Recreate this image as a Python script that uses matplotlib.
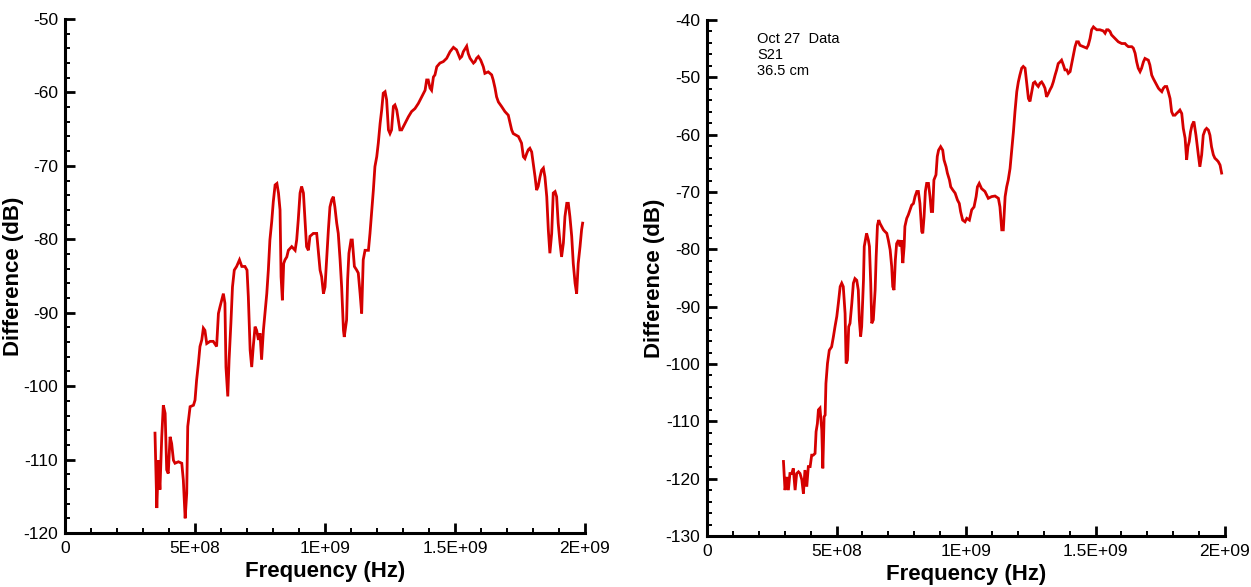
import numpy as np
import matplotlib
matplotlib.use("Agg")
import matplotlib.pyplot as plt
from matplotlib.ticker import MultipleLocator, FixedLocator

plt.rcParams['font.family'] = ['Liberation Sans', 'DejaVu Sans']
plt.rcParams['axes.unicode_minus'] = False

# ---- Data: frequency in GHz, difference in dB ----
left_freq_ghz = [
    0.346, 0.353, 0.359, 0.365, 0.372, 0.378, 0.385, 0.391, 0.397, 0.404,
    0.410, 0.417, 0.423, 0.436, 0.449, 0.455, 0.462, 0.468, 0.472, 0.481,
    0.494, 0.500, 0.506, 0.513, 0.519, 0.526, 0.532, 0.538, 0.545, 0.558,
    0.570, 0.583, 0.590, 0.596, 0.609, 0.615, 0.619, 0.626, 0.631, 0.638,
    0.644, 0.651, 0.660, 0.671, 0.680, 0.692, 0.700, 0.705, 0.712, 0.718,
    0.724, 0.731, 0.737, 0.744, 0.750, 0.756, 0.763, 0.769, 0.776, 0.782,
    0.788, 0.795, 0.801, 0.808, 0.815, 0.821, 0.827, 0.831, 0.836, 0.841,
    0.846, 0.853, 0.859, 0.872, 0.885, 0.891, 0.897, 0.904, 0.910, 0.917,
    0.923, 0.929, 0.936, 0.942, 0.955, 0.968, 0.974, 0.981, 0.987, 0.994,
    1.000, 1.006, 1.013, 1.019, 1.026, 1.032, 1.038, 1.045, 1.051, 1.058,
    1.064, 1.071, 1.074, 1.083, 1.087, 1.092, 1.100, 1.105, 1.113, 1.122,
    1.128, 1.135, 1.141, 1.147,
    1.154, 1.167, 1.173, 1.180, 1.186, 1.192, 1.199, 1.205, 1.212, 1.218,
    1.224, 1.231, 1.237, 1.244, 1.250, 1.256, 1.263, 1.269, 1.276, 1.282,
    1.288, 1.295, 1.308, 1.321, 1.333, 1.346, 1.359, 1.372, 1.385, 1.391,
    1.397, 1.404, 1.410, 1.417, 1.423, 1.430, 1.442, 1.455, 1.468, 1.481,
    1.494, 1.506, 1.519, 1.526, 1.532, 1.545, 1.551, 1.558, 1.571, 1.577,
    1.583, 1.590, 1.599, 1.609, 1.615, 1.628, 1.641, 1.647, 1.654, 1.660,
    1.667, 1.679, 1.692, 1.705, 1.712, 1.718, 1.724, 1.744, 1.756, 1.763,
    1.769, 1.776, 1.782, 1.788, 1.795, 1.801, 1.808, 1.814, 1.820, 1.827,
    1.833, 1.840, 1.846, 1.853, 1.859, 1.865, 1.872, 1.878, 1.885, 1.891,
    1.897, 1.904, 1.910, 1.917, 1.923, 1.930, 1.936, 1.942, 1.949, 1.955,
    1.962, 1.968, 1.974, 1.981, 1.987, 1.991,
]
left_diff_db = [
    -106.4, -116.6, -110.1, -114.1, -106.9, -102.6, -103.7, -111.4, -111.9, -106.9,
    -107.8, -110.1, -110.5, -110.3, -110.5, -112.8, -118.0, -114.6, -105.5, -102.8,
    -102.6, -101.9, -99.2, -96.9, -94.6, -93.7, -92.1, -92.4, -94.2, -93.9,
    -93.9, -94.6, -90.1, -89.2, -87.4, -88.7, -97.4, -101.4, -96.4, -91.4,
    -86.5, -84.2, -83.7, -82.8, -83.7, -83.7, -84.2, -87.8, -95.1, -97.4,
    -94.6, -91.9, -92.4, -93.7, -92.8, -96.4, -92.4, -90.1, -87.4, -84.2,
    -80.1, -77.6, -74.9, -72.6, -72.4, -73.7, -76.0, -85.1, -88.3, -83.3,
    -82.8, -82.4, -81.5, -81.0, -81.5, -80.1, -77.4, -73.7, -72.8, -73.7,
    -77.4, -81.0, -81.5, -79.6, -79.2, -79.2, -81.5, -84.2, -85.1, -87.4,
    -86.5, -82.8, -78.7, -75.6, -74.6, -74.2, -75.6, -77.8, -79.2, -82.8,
    -86.5, -92.4, -93.3, -91.0, -85.5, -81.9, -80.1, -80.1, -83.7, -84.2,
    -84.6, -87.4, -90.1, -82.8,
    -81.5, -81.5, -79.2, -76.0, -73.3, -70.1, -68.75, -66.9, -64.2, -62.4,
    -60.1, -59.9, -61.0, -65.1, -65.6, -65.1, -61.9, -61.7, -62.4, -63.75,
    -65.1, -65.1, -64.2, -63.3, -62.6, -62.2, -61.5, -60.6, -59.7, -58.3,
    -58.3, -59.4, -59.7, -57.9, -57.6, -56.5, -56.0, -55.8, -55.35, -54.45,
    -53.86, -54.2, -55.35, -55.1, -54.45, -53.7, -54.7, -55.35, -56.0, -55.8,
    -55.35, -55.1, -55.6, -56.5, -57.4, -57.2, -57.6, -58.3, -59.4, -60.6,
    -61.3, -61.9, -62.6, -63.1, -64.2, -65.1, -65.6, -66.0, -66.9, -68.75,
    -69.0, -68.3, -67.8, -67.6, -68.1, -69.65, -71.5, -73.3, -72.8, -71.5,
    -70.6, -70.3, -71.5, -74.2, -78.7, -81.9, -79.2, -73.7, -73.5, -74.2,
    -77.8, -80.5, -82.4, -80.5, -76.9, -75.1, -75.1, -76.9, -79.6, -83.3,
    -86.0, -87.4, -83.3, -81.0, -78.7, -77.8,
]

right_freq_ghz = [
    0.295, 0.301, 0.308, 0.314, 0.320, 0.327, 0.333, 0.340, 0.346, 0.353,
    0.359, 0.366, 0.372, 0.378, 0.385, 0.391, 0.398, 0.404, 0.410, 0.417,
    0.421, 0.426, 0.430, 0.436, 0.443, 0.447, 0.452, 0.456, 0.459, 0.465,
    0.472, 0.481, 0.488, 0.494, 0.501, 0.507, 0.514, 0.520, 0.526, 0.533,
    0.537, 0.542, 0.547, 0.552, 0.559, 0.565, 0.571, 0.578, 0.584, 0.588,
    0.593, 0.597, 0.604, 0.607, 0.616, 0.623, 0.627, 0.632, 0.636, 0.642,
    0.649, 0.653, 0.658, 0.663, 0.668, 0.681, 0.687, 0.694, 0.700, 0.707,
    0.713, 0.717, 0.722, 0.727, 0.732, 0.739, 0.745, 0.750, 0.756, 0.761,
    0.764, 0.771, 0.777, 0.784, 0.790, 0.797, 0.803, 0.810, 0.816, 0.822,
    0.829, 0.833, 0.838, 0.843, 0.848, 0.855, 0.861, 0.866, 0.871, 0.876,
    0.884, 0.889, 0.894, 0.902, 0.910, 0.915, 0.923, 0.928, 0.936, 0.941,
    0.949, 0.958, 0.967, 0.974, 0.979, 0.987, 0.996, 1.003, 1.013, 1.022,
    1.031, 1.039, 1.044, 1.051, 1.060, 1.073, 1.086, 1.099, 1.112, 1.125,
    1.131, 1.138, 1.144, 1.151, 1.157, 1.163,
    1.170, 1.176, 1.183, 1.189, 1.196, 1.202, 1.208, 1.215, 1.221, 1.228,
    1.234, 1.241, 1.247, 1.254, 1.260, 1.266, 1.273, 1.279, 1.286, 1.292,
    1.299, 1.305, 1.311, 1.318, 1.324, 1.331, 1.337, 1.344, 1.350, 1.356,
    1.363, 1.369, 1.376, 1.382, 1.389, 1.395, 1.402, 1.408, 1.414, 1.421,
    1.427, 1.434, 1.440, 1.453, 1.466, 1.472, 1.479, 1.485, 1.492, 1.498,
    1.505, 1.517, 1.530, 1.537, 1.543, 1.549, 1.556, 1.562, 1.575, 1.588,
    1.601, 1.614, 1.620, 1.627, 1.640, 1.646, 1.653, 1.659, 1.665, 1.672,
    1.678, 1.685, 1.691, 1.704, 1.710, 1.717, 1.723, 1.730, 1.736, 1.743,
    1.749, 1.756, 1.762, 1.768, 1.775, 1.781, 1.788, 1.794, 1.800, 1.807,
    1.813, 1.820, 1.826, 1.833, 1.839, 1.846, 1.852, 1.857, 1.862, 1.867,
    1.873, 1.880, 1.888, 1.897, 1.903, 1.910, 1.916, 1.923, 1.929, 1.936,
    1.942, 1.948, 1.955, 1.961, 1.968, 1.974, 1.981, 1.987,
]
right_diff_db = [
    -117.0, -122.0, -119.7, -122.0, -119.1, -119.1, -118.2, -122.0, -119.1, -118.8,
    -119.1, -120.2, -122.6, -118.5, -121.4, -117.9, -117.9, -115.9, -115.9, -115.6,
    -111.8, -110.4, -108.0, -107.7, -111.5, -118.2, -109.2, -108.9, -103.4, -99.9,
    -97.6, -97.0, -95.2, -93.5, -91.7, -89.4, -86.5, -85.9, -86.5, -91.2,
    -99.9, -99.3, -93.5, -92.9, -89.4, -85.9, -85.1, -85.4, -87.1, -92.3,
    -95.2, -93.5, -85.4, -79.5, -77.2, -78.4, -79.5, -85.9, -92.9, -92.3,
    -87.1, -81.3, -75.8, -74.9, -75.5, -76.6, -76.9, -77.2, -78.4, -80.1,
    -83.0, -86.5, -87.1, -81.9, -79.0, -78.4, -79.5, -78.4, -82.4, -79.5,
    -76.0, -74.6, -74.0, -73.1, -72.3, -72.0, -70.8, -69.9, -69.9, -72.0,
    -76.9, -77.2, -74.3, -69.9, -68.5, -68.5, -70.8, -73.4, -73.4, -67.9,
    -67.0, -63.8, -62.7, -62.1, -62.7, -64.4, -65.6, -66.7, -67.9, -69.1,
    -69.65, -70.2, -71.4, -72.0, -73.4, -74.9, -75.2, -74.6, -74.9, -73.1,
    -72.6, -70.8, -69.1, -68.5, -69.4, -69.9, -71.1, -70.8, -70.7, -71.1,
    -72.6, -76.6, -76.6, -70.8, -69.1, -67.9,
    -65.9, -63.0, -59.5, -56.0, -52.5, -50.8, -49.6, -48.4, -48.1, -48.4,
    -50.8, -53.7, -54.2, -52.5, -51.0, -50.8, -51.3, -51.6, -51.0, -50.8,
    -51.3, -51.9, -53.4, -52.8, -52.2, -51.6, -50.8, -49.6, -48.7, -47.6,
    -47.3, -47.0, -47.85, -48.7, -48.7, -49.3, -49.0, -47.6, -46.1, -44.65,
    -43.8, -43.8, -44.4, -44.65, -44.9, -44.4, -43.2, -41.7, -41.2, -41.45,
    -41.7, -41.7, -41.9, -42.3, -41.7, -41.7, -42.0, -42.6, -43.2, -43.8,
    -44.1, -44.1, -44.4, -44.65, -44.65, -44.9, -45.8, -47.3, -48.4, -49.0,
    -48.4, -47.3, -46.7, -47.0, -47.85, -49.6, -50.2, -50.8, -51.3, -51.9,
    -52.2, -52.5, -51.9, -51.6, -51.6, -52.5, -53.7, -56.0, -56.6, -56.6,
    -56.3, -56.0, -55.7, -56.3, -58.9, -60.6, -64.4, -62.1, -61.2, -59.5,
    -58.3, -57.7, -60.1, -63.5, -65.6, -63.5, -60.1, -59.2, -58.9, -59.2,
    -60.1, -62.1, -63.5, -64.1, -64.4, -64.7, -65.3, -66.7,
]

x_tick_values = [0, 5e8, 1e9, 1.5e9, 2e9]
x_tick_labels = ["0", "5E+08", "1E+09", "1.5E+09", "2E+09"]
left_ylim = (-120, -50)
right_ylim = (-130, -40)
note_lines = ["Oct 27  Data", "S21", "36.5 cm"]

LINE_RED = "#d50000"


def style_axes(ax, ylim, ylabel_x):
    ax.set_xlim(0, 2e9)
    ax.set_ylim(*ylim)
    for side in ("top", "right"):
        ax.spines[side].set_visible(False)
    for side in ("left", "bottom"):
        ax.spines[side].set_linewidth(2.2)
        ax.spines[side].set_capstyle("projecting")
    ax.xaxis.set_major_locator(FixedLocator(x_tick_values))
    ax.set_xticklabels(x_tick_labels)
    ax.xaxis.set_minor_locator(MultipleLocator(1e8))
    ax.yaxis.set_major_locator(MultipleLocator(10))
    ax.yaxis.set_minor_locator(MultipleLocator(2))
    ax.tick_params(which="major", direction="in", length=7.5, width=2.0,
                   labelsize=12.5, pad=6, color="black")
    ax.tick_params(which="minor", direction="in", length=3.5, width=1.4,
                   color="black")
    ax.tick_params(axis="y", which="major", pad=5)
    ax.set_xlabel("Frequency (Hz)", fontsize=16, fontweight="bold")
    ax.set_ylabel("Difference (dB)", fontsize=16, fontweight="bold")
    ax.xaxis.set_label_coords(0.5, -0.054)
    ax.yaxis.set_label_coords(ylabel_x, 0.5)


fig = plt.figure(figsize=(12.51, 5.87), dpi=100)
ax1 = fig.add_axes([0.0520, 0.0920, 0.4156, 0.8756])
ax2 = fig.add_axes([0.5652, 0.0869, 0.4140, 0.8790])

ax1.plot(np.array(left_freq_ghz) * 1e9, left_diff_db, color=LINE_RED, lw=2.0,
         solid_joinstyle="miter")
ax2.plot(np.array(right_freq_ghz) * 1e9, right_diff_db, color=LINE_RED, lw=2.0,
         solid_joinstyle="miter")

style_axes(ax1, left_ylim, -0.078)
style_axes(ax2, right_ylim, -0.082)

for i, line in enumerate(note_lines):
    ax2.text(0.097, 0.976 - i * 0.031, line, transform=ax2.transAxes,
             fontsize=10.5, va="top", ha="left")

fig.savefig("out.png", dpi=100)
